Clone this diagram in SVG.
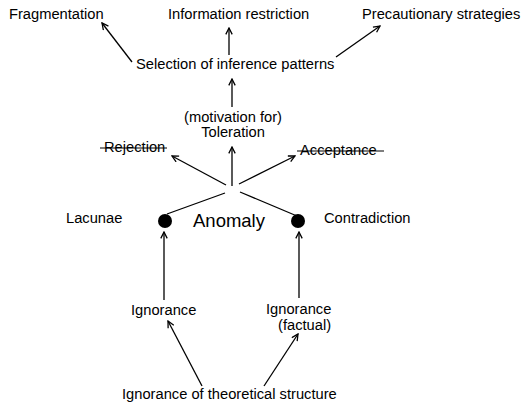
<svg xmlns="http://www.w3.org/2000/svg" width="527" height="404" viewBox="0 0 527 404">
<defs>
<marker id="ah" viewBox="0 0 10 10" refX="9" refY="5" markerWidth="8" markerHeight="8" markerUnits="userSpaceOnUse" orient="auto">
<path d="M1,1 L9,5 L1,9" fill="none" stroke="#000" stroke-width="1.6"/>
</marker>
<style>
text{font-family:"Liberation Sans",Arial,sans-serif;font-size:14.7px;fill:#000}
.big{font-size:18.5px}
.c line{stroke:#000;stroke-width:1.3}
.a{marker-end:url(#ah)}
.s{stroke:#000;stroke-width:1.2}
</style>
</defs>
<rect width="527" height="404" fill="#fff"/>
<g class="c" id="connectors">
<line class="a" x1="132" y1="62" x2="102" y2="23"/>
<line class="a" x1="229" y1="55" x2="229" y2="28"/>
<line class="a" x1="336" y1="57" x2="380" y2="26"/>
<line class="a" x1="232" y1="107" x2="232" y2="79"/>
<line class="a" x1="232" y1="186" x2="232" y2="147"/>
<line class="a" x1="226" y1="185" x2="172" y2="156"/>
<line class="a" x1="239" y1="184" x2="295" y2="156"/>
<line x1="225" y1="193" x2="167" y2="214"/>
<line x1="240" y1="192" x2="297" y2="216"/>
<line class="a" x1="164" y1="300" x2="164" y2="232"/>
<line class="a" x1="299" y1="298" x2="299" y2="232"/>
<line class="a" x1="202" y1="386" x2="168" y2="321"/>
<line class="a" x1="264" y1="386" x2="298" y2="334"/>
</g>
<g id="fragmentation"><text x="9" y="19">Fragmentation</text></g>
<g id="information-restriction"><text x="168" y="19">Information restriction</text></g>
<g id="precautionary-strategies"><text x="362" y="19">Precautionary strategies</text></g>
<g id="selection"><text x="136" y="69">Selection of inference patterns</text></g>
<g id="toleration"><text x="233" y="122" text-anchor="middle">(motivation for)</text><text x="233" y="137" text-anchor="middle">Toleration</text></g>
<g id="rejection"><text x="104" y="152">Rejection</text><line class="s" x1="100" y1="148" x2="167" y2="148"/></g>
<g id="acceptance"><text x="300" y="155">Acceptance</text><line class="s" x1="297" y1="151" x2="384" y2="151"/></g>
<g id="lacunae"><text x="66" y="223">Lacunae</text><circle cx="165" cy="221" r="7"/></g>
<g id="anomaly"><text class="big" x="193" y="227">Anomaly</text></g>
<g id="contradiction"><text x="324" y="223">Contradiction</text><circle cx="298" cy="221" r="7"/></g>
<g id="ignorance"><text x="131" y="315">Ignorance</text></g>
<g id="ignorance-factual"><text x="266" y="314">Ignorance</text><text x="278" y="330">(factual)</text></g>
<g id="ignorance-theoretical"><text x="122" y="399">Ignorance of theoretical structure</text></g>
</svg>
